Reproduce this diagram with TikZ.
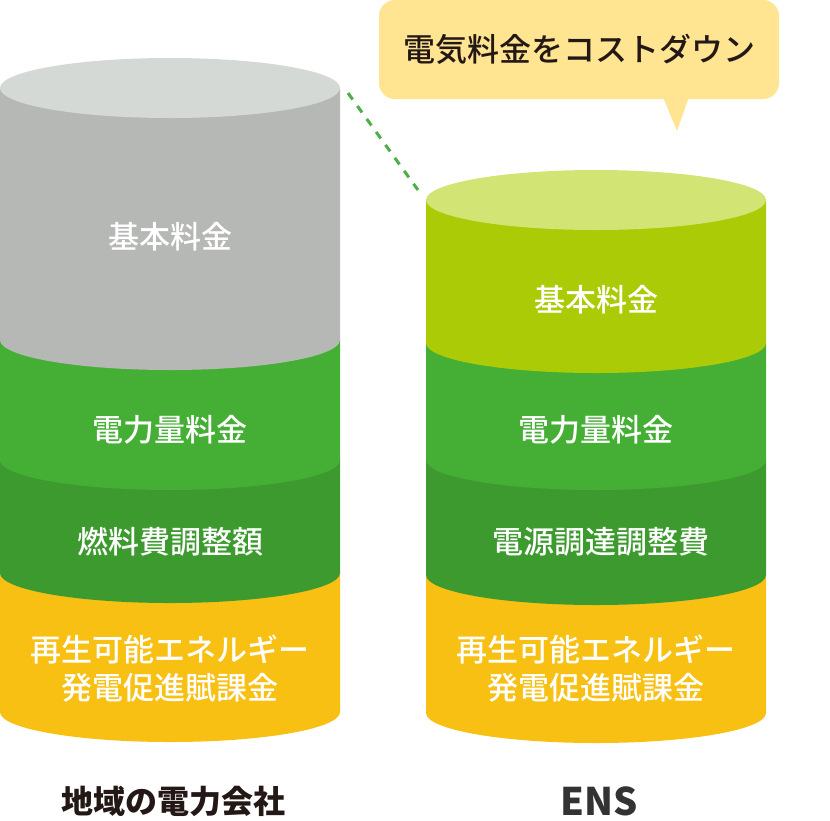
\documentclass[tikz,border=0pt]{standalone}
\usepackage{fontspec}
\newfontfamily\jp{Noto Sans CJK JP}
\newfontfamily\jpmed{Noto Sans CJK JP Medium}
\usetikzlibrary{positioning}

\definecolor{topgray}{HTML}{D5D9D6}
\definecolor{sidegray}{HTML}{B6B8B5}
\definecolor{topyg}{HTML}{D2E474}
\definecolor{sideyg}{HTML}{ABCB07}
\definecolor{midgreen}{HTML}{45AF35}
\definecolor{darkgreen}{HTML}{3D9A2F}
\definecolor{gold}{HTML}{F8C013}
\definecolor{bubblefill}{HTML}{FFE591}
\definecolor{ink}{HTML}{231815}
\definecolor{dashgreen}{HTML}{4DAE4A}

\newcommand{\drumlayer}[4]{%
  \fill[#4] (#1-170,#2) -- (#1-170,#3)
    arc[start angle=180,end angle=0,x radius=170,y radius=30]
    -- (#1+170,#2) -- cycle;}

\begin{document}
\begin{tikzpicture}[
                            x=1pt,
                            y=-1pt,
                            layertext/.style={text=white,align=center,font=\jpmed\fontsize{31}{38}\selectfont},
                            caption/.style={text=ink,font=\jp\bfseries\fontsize{32}{38}\selectfont},
                            bubble/.style={fill=bubblefill,rounded corners=16pt,minimum width=400pt,minimum height=99pt,
                                           text=ink,font=\jpmed\fontsize{32}{38}\selectfont},
                            cutline/.style={draw=dashgreen,line width=3pt,dash pattern=on 8pt off 8pt}
                        ]
                        \useasboundingbox (0,0) rectangle (830,820);

                        % left drum
                        \foreach \ytop/\ybot/\col in {573/712/gold,460/573/darkgreen,340/460/midgreen,88/340/sidegray}
                            \drumlayer{170}{\ytop}{\ybot}{\col};
                        \fill[topgray] (170,88) ellipse[x radius=170,y radius=30];

                        % right drum
                        \foreach \ytop/\ybot/\col in {575/713/gold,460/575/darkgreen,343/460/midgreen,200/343/sideyg}
                            \drumlayer{596}{\ytop}{\ybot}{\col};
                        \fill[topyg] (596,200) ellipse[x radius=170,y radius=30];

                        \node[layertext] (lbase)   at (170,237) {基本料金};
                        \node[layertext] (lenergy) at (170,430) {電力量料金};
                        \node[layertext] (lfuel)   at (170,542) {燃料費調整額};
                        \node[layertext] (lrenew)  at (170,669) {再生可能エネルギー\\発電促進賦課金};

                        \node[layertext] (rbase)   at (596,300) {基本料金};
                        \node[layertext] (renergy) at (596,430) {電力量料金};
                        \node[layertext] (rsupply) at (601,542) {電源調達調整費};
                        \node[layertext] (rrenew)  at (596,669) {再生可能エネルギー\\発電促進賦課金};

                        \node[bubble] (cost) at (579,49.5) {電気料金をコストダウン};
                        \fill[bubblefill] (663,97) -- (677,131) -- (689,97) -- cycle;

                        \coordinate (lefttop)  at (348,93);
                        \coordinate (righttop) at (418,190);
                        \draw[cutline] (lefttop) -- (righttop);

                        \node[caption] (local) at (173,801) {地域の電力会社};
                        \node[caption,text=black!80,font=\jp\bfseries\fontsize{38}{40}\selectfont] (ens) at (599,801) {ENS};
                    \end{tikzpicture}
\end{document}
